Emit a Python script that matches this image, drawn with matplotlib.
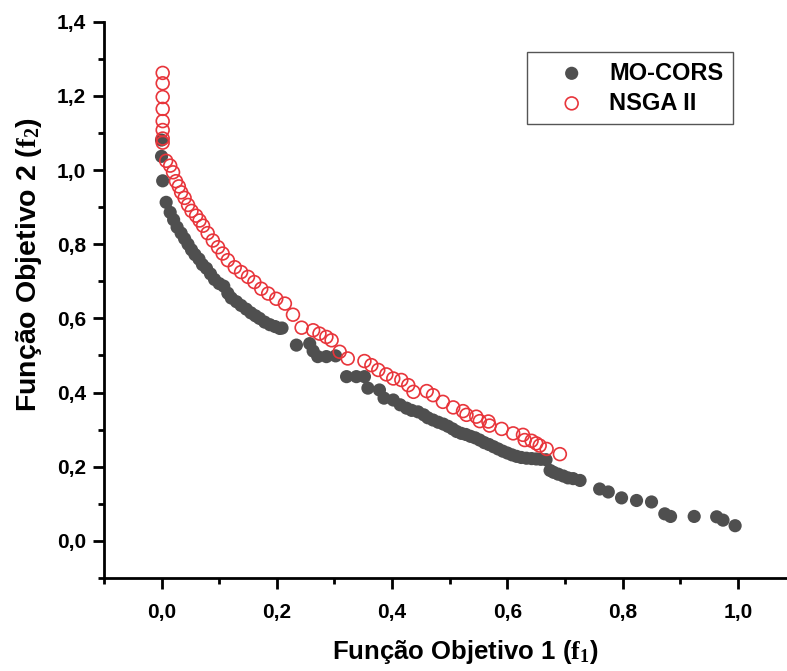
import matplotlib
matplotlib.use('Agg')
import matplotlib.pyplot as plt
from matplotlib.ticker import MultipleLocator, FuncFormatter

plt.rcParams['font.family'] = ['Liberation Sans', 'DejaVu Sans']
plt.rcParams['font.weight'] = 'bold'
plt.rcParams['mathtext.fontset'] = 'custom'
plt.rcParams['mathtext.rm'] = 'Liberation Serif:bold'
plt.rcParams['mathtext.bf'] = 'Liberation Serif:bold'
plt.rcParams['mathtext.it'] = 'Liberation Serif:bold'

# MO-CORS front (f1, f2)
mo_f1 = [0.0, 0.0, 0.002, 0.008, 0.015, 0.021, 0.027, 0.034, 0.04, 0.046, 0.052, 0.058,
         0.065, 0.071, 0.078, 0.085, 0.092, 0.1, 0.108, 0.115, 0.121, 0.13, 0.138, 0.147,
         0.155, 0.163, 0.17, 0.179, 0.188, 0.197, 0.205, 0.209,
         0.234, 0.257, 0.263, 0.271, 0.286, 0.302, 0.321, 0.338, 0.352, 0.358, 0.378, 0.386,
         0.402, 0.414, 0.425, 0.434, 0.445, 0.455, 0.462, 0.471, 0.48, 0.489, 0.497, 0.505,
         0.512, 0.52, 0.528, 0.536, 0.544, 0.552, 0.56, 0.568, 0.576, 0.584, 0.592, 0.6,
         0.608, 0.616, 0.624, 0.633, 0.642, 0.65, 0.658, 0.667,
         0.674, 0.68, 0.688, 0.697, 0.705, 0.714, 0.726, 0.76, 0.775, 0.798, 0.824, 0.85,
         0.873, 0.883, 0.924, 0.963, 0.974, 0.995]
mo_f2 = [1.081, 1.037, 0.971, 0.913, 0.886, 0.866, 0.846, 0.83, 0.815, 0.8, 0.785, 0.772,
         0.76, 0.745, 0.735, 0.72, 0.705, 0.694, 0.687, 0.668, 0.655, 0.645, 0.635, 0.625,
         0.615, 0.607, 0.6, 0.59, 0.583, 0.578, 0.573, 0.574,
         0.528, 0.532, 0.512, 0.497, 0.497, 0.499, 0.443, 0.443, 0.443, 0.412, 0.407, 0.385,
         0.38, 0.367, 0.358, 0.352, 0.348, 0.34, 0.332, 0.326, 0.32, 0.315, 0.309, 0.302,
         0.295, 0.29, 0.287, 0.282, 0.278, 0.272, 0.265, 0.26, 0.254, 0.248, 0.242, 0.237,
         0.232, 0.228, 0.225, 0.223, 0.222, 0.221, 0.22, 0.219,
         0.19, 0.185, 0.18, 0.175, 0.17, 0.168, 0.163, 0.14, 0.132, 0.116, 0.109, 0.105,
         0.073, 0.066, 0.066, 0.065, 0.056, 0.041]

# NSGA II front (f1, f2)
ns_f1 = [0.002, 0.002, 0.002, 0.002, 0.002, 0.002, 0.002, 0.002,
         0.008, 0.015, 0.02, 0.025, 0.03, 0.034, 0.04, 0.046, 0.052, 0.06, 0.066, 0.072,
         0.08, 0.089, 0.098, 0.106, 0.115, 0.127, 0.138, 0.15, 0.161, 0.173, 0.185, 0.199,
         0.214, 0.228, 0.243, 0.263, 0.274, 0.286, 0.295, 0.309, 0.323, 0.352, 0.364, 0.376,
         0.39, 0.402, 0.416, 0.428, 0.437, 0.46, 0.471, 0.488, 0.506, 0.523, 0.529, 0.546,
         0.552, 0.567, 0.569, 0.59, 0.61, 0.627, 0.63, 0.642, 0.65, 0.656, 0.668, 0.691]
ns_f2 = [1.262, 1.234, 1.197, 1.165, 1.132, 1.108, 1.085, 1.074,
         1.025, 1.012, 0.994, 0.97, 0.956, 0.94, 0.925, 0.906, 0.89, 0.877, 0.864, 0.85,
         0.83, 0.81, 0.792, 0.775, 0.757, 0.738, 0.725, 0.712, 0.698, 0.68, 0.667, 0.653,
         0.64, 0.61, 0.575, 0.568, 0.559, 0.55, 0.541, 0.51, 0.492, 0.485, 0.474, 0.461,
         0.449, 0.438, 0.434, 0.42, 0.402, 0.404, 0.393, 0.375, 0.36, 0.35, 0.34, 0.335,
         0.323, 0.322, 0.311, 0.302, 0.29, 0.286, 0.272, 0.27, 0.263, 0.257, 0.248, 0.234]

fig = plt.figure(figsize=(7.87, 6.71), dpi=100)
ax = fig.add_axes([0.132, 0.1386, 0.868, 0.829])

ax.scatter(mo_f1, mo_f2, s=90, color='#4f4f4f', edgecolors='none', label='MO-CORS', zorder=2)
ax.scatter(ns_f1, ns_f2, s=85, facecolors='none', edgecolors='#e8353b', linewidths=1.2,
           label='NSGA II', zorder=3)

ax.set_xlim(-0.1, 1.085)
ax.set_ylim(-0.1, 1.4)
ax.spines['top'].set_visible(False)
ax.spines['right'].set_visible(False)
for s in ['left', 'bottom']:
    ax.spines[s].set_linewidth(2)

ax.xaxis.set_major_locator(MultipleLocator(0.2))
ax.xaxis.set_minor_locator(MultipleLocator(0.1))
ax.yaxis.set_major_locator(MultipleLocator(0.2))
ax.yaxis.set_minor_locator(MultipleLocator(0.1))
comma = FuncFormatter(lambda v, p: ('%.1f' % v).replace('.', ',').replace('-0,0', '0,0'))
ax.xaxis.set_major_formatter(comma)
ax.yaxis.set_major_formatter(comma)
ax.tick_params(which='major', direction='out', length=8, width=2, labelsize=15, pad=5)
ax.tick_params(which='minor', direction='out', length=4, width=2)
ax.tick_params(axis='x', pad=10)
for lab in ax.get_xticklabels() + ax.get_yticklabels():
    lab.set_fontweight('bold')

ax.set_xlabel('Função Objetivo 1 ($\\mathrm{f}_1$)', fontsize=18.5, fontweight='bold')
ax.set_ylabel('Função Objetivo 2 ($\\mathrm{f}_2$)', fontsize=20.5, fontweight='bold')
ax.xaxis.set_label_coords(0.529, -0.108)
ax.yaxis.set_label_coords(-0.088, 0.563)

leg = ax.legend(loc='upper right', bbox_to_anchor=(0.921, 0.9455), prop={'size': 17, 'weight': 'bold'},
                fancybox=False, edgecolor='#555555', framealpha=1, handletextpad=0.1,
                borderpad=0.4, labelspacing=0.3, borderaxespad=0, scatterpoints=1,
                handlelength=3.0)
leg.get_frame().set_linewidth(1)

fig.savefig('out.png', dpi=100)
